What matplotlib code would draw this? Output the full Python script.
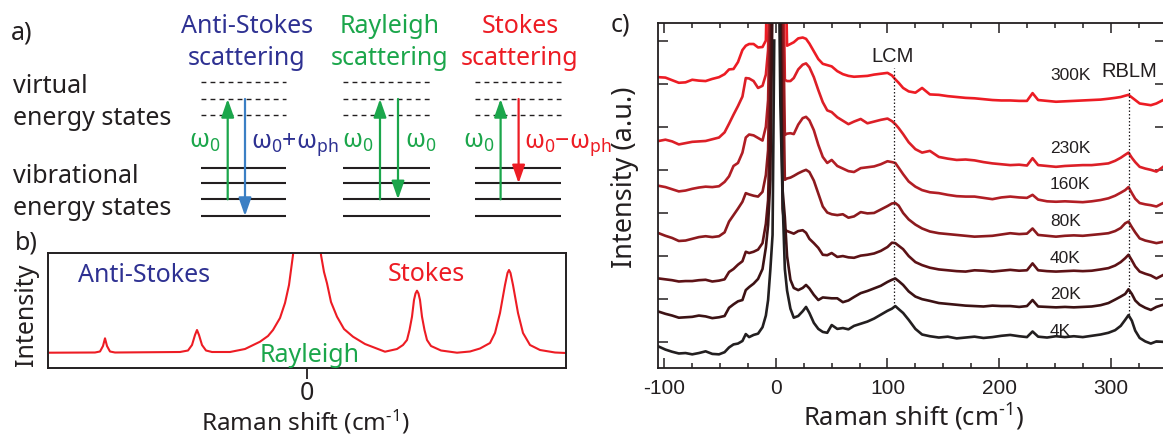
import numpy as np
import matplotlib.pyplot as plt
from matplotlib.ticker import MultipleLocator

plt.rcParams['font.family'] = ['Noto Sans', 'DejaVu Sans']
plt.rcParams['mathtext.fontset'] = 'custom'
plt.rcParams['mathtext.rm'] = 'Noto Sans'
plt.rcParams['mathtext.it'] = 'Noto Sans:italic'
plt.rcParams['mathtext.bf'] = 'Noto Sans:bold'

INK = '#231f20'
NAVY = '#2e3192'
SKY = '#3b7fc4'
GREEN = '#1ba64b'
RED = '#ed1c24'

# ---- b) schematic spectrum (arbitrary units, laser line at 0) ----
b_shift = [-257, -212, -207, -204, -202, -200, -197, -192, -127, -119,
           -115, -112, -110, -108, -105, -101, -95, -77, -62, -47,
           -39, -34, -27, -22, -18, -14, -11, 0, 11, 14,
           17, 20, 24, 30, 37, 46, 58, 78, 90, 96,
           100, 102.5, 105, 107, 108.5, 110, 111.5, 113, 115, 117.5,
           120, 124, 134, 150, 163, 173, 183, 188, 193, 198,
           200.5, 202, 203.5, 206, 211, 216, 223, 233, 248, 259]
b_intensity = [15.3, 15.5, 16.5, 22, 29.7, 22, 16.5, 15.5, 16, 17.5,
               23, 33, 38, 33, 23, 17.5, 16, 16, 19, 26.3,
               32, 38, 50, 65, 83, 113, 153, 250, 153, 113,
               96, 84.7, 66, 51.3, 39, 31.3, 24, 16.3, 19, 23,
               28, 38, 51.3, 68, 74.5, 77.3, 74.5, 68, 51.3, 38,
               28, 22, 17.5, 15.3, 16.5, 19.5, 25, 35, 55, 83,
               95, 98, 95, 83, 55, 35, 23, 18, 15.5, 15]

# ---- c) measured spectra, stacked (cm^-1, a.u.); nan = notch around laser ----
nan = np.nan
shift = [-105, -99, -93, -87, -81, -75, -69, -63, -57, -51,
         -46, -42, -38, -34, -30, -27, -24, -20, -16, -12,
         -9, -7, -5, -3, -1.5, 0, 2.5, 4, 6, 8,
         10, 13, 16, 20, 24, 27, 30, 34, 38, 42,
         46, 50, 55, 60, 65, 70, 76, 82, 88, 94,
         100, 104, 107, 110, 114, 119, 125, 131, 138, 146,
         154, 162, 170, 178, 186, 194, 202, 210, 218, 225,
         230, 235, 243, 251, 259, 267, 275, 283, 291, 298,
         304, 309, 313, 316, 319, 322, 326, 331, 336, 341,
         347]

i_300k = [6.15, 6.14, 6.08, 6.02, 6.03, 6.09, 6.07, 6.06, 6.11, 6.15,
          6.22, 6.33, 6.34, 6.50, 6.78, 6.88, 6.92, 6.92, 6.84, 6.85,
          7.00, 9.5, 12.0, 14.0, 16.0, nan, 16.0, 14.0, 12.0, 9.5,
          6.88, 6.92, 6.96, 7.05, 7.07, 7.04, 6.93, 6.75, 6.57, 6.46,
          6.43, 6.40, 6.29, 6.22, 6.18, 6.16, 6.17, 6.18, 6.21, 6.23,
          6.25, 6.19, 6.10, 6.02, 5.90, 5.82, 5.79, 5.90, 5.75, 5.74,
          5.71, 5.69, 5.67, 5.66, 5.64, 5.62, 5.61, 5.61, 5.60, 5.60,
          5.78, 5.62, 5.60, 5.58, 5.59, 5.60, 5.61, 5.62, 5.63, 5.65,
          5.67, 5.69, 5.72, 5.74, 5.68, 5.62, 5.54, 5.52, 5.50, 5.54,
          5.62]
i_230k = [4.67, 4.70, 4.66, 4.59, 4.62, 4.65, 4.66, 4.67, 4.71, 4.75,
          4.87, 5.07, 5.28, 5.48, 5.70, 6.13, 6.12, 6.06, 5.90, 5.95,
          6.21, 6.78, 10.0, 13.0, 15.0, nan, 15.0, 13.0, 10.0, 6.09,
          6.06, 6.06, 6.13, 6.33, 6.44, 6.47, 6.38, 6.15, 5.85, 5.57,
          5.38, 5.34, 5.22, 5.14, 5.06, 5.12, 5.18, 5.08, 5.12, 5.16,
          5.19, 5.13, 5.06, 4.97, 4.83, 4.64, 4.48, 4.40, 4.44, 4.30,
          4.26, 4.23, 4.24, 4.22, 4.18, 4.15, 4.13, 4.11, 4.12, 4.10,
          4.27, 4.11, 4.09, 4.07, 4.09, 4.10, 4.11, 4.11, 4.13, 4.15,
          4.21, 4.28, 4.35, 4.40, 4.28, 4.18, 4.07, 4.03, 4.00, 3.96,
          4.07]
i_160k = [3.63, 3.60, 3.55, 3.50, 3.52, 3.56, 3.59, 3.61, 3.60, 3.62,
          3.72, 3.85, 4.09, 4.16, 4.40, 4.75, 4.82, 4.80, 4.74, 4.68,
          5.00, 5.62, 8.5, 12.0, 14.0, nan, 14.0, 12.0, 8.5, 4.81,
          4.84, 4.85, 4.83, 5.05, 5.20, 5.23, 5.15, 4.92, 4.58, 4.30,
          4.16, 4.23, 4.09, 4.03, 3.97, 3.95, 4.04, 4.06, 4.08, 4.13,
          4.20, 4.18, 4.16, 4.05, 3.90, 3.73, 3.61, 3.53, 3.48, 3.46,
          3.42, 3.39, 3.38, 3.38, 3.35, 3.32, 3.36, 3.38, 3.36, 3.35,
          3.42, 3.31, 3.27, 3.26, 3.27, 3.26, 3.25, 3.27, 3.30, 3.34,
          3.40, 3.47, 3.53, 3.60, 3.46, 3.33, 3.23, 3.20, 3.18, 3.15,
          3.23]
i_80k = [2.53, 2.47, 2.42, 2.35, 2.36, 2.40, 2.44, 2.46, 2.44, 2.46,
         2.55, 2.80, 2.95, 3.10, 3.26, 3.46, 3.43, 3.40, 3.38, 3.49,
         3.88, 4.46, 7.5, 11.0, 13.0, nan, 13.0, 11.0, 7.0, 3.77,
         3.80, 3.82, 3.86, 3.92, 3.97, 4.00, 3.95, 3.75, 3.45, 3.15,
         3.01, 2.97, 2.95, 2.97, 2.89, 2.92, 3.02, 2.99, 3.00, 3.08,
         3.16, 3.22, 3.23, 3.17, 3.00, 2.85, 2.73, 2.64, 2.57, 2.53,
         2.51, 2.49, 2.47, 2.45, 2.46, 2.47, 2.50, 2.53, 2.51, 2.52,
         2.64, 2.49, 2.47, 2.45, 2.47, 2.48, 2.47, 2.49, 2.51, 2.53,
         2.58, 2.65, 2.76, 2.80, 2.67, 2.55, 2.41, 2.36, 2.33, 2.30,
         2.33]
i_40k = [1.48, 1.46, 1.44, 1.41, 1.42, 1.42, 1.44, 1.45, 1.41, 1.43,
         1.46, 1.63, 1.70, 1.80, 1.88, 2.10, 2.07, 2.10, 2.15, 2.30,
         2.75, 3.30, 5.5, 10.0, 12.0, nan, 12.0, 9.0, 3.10, 2.61,
         2.58, 2.55, 2.52, 2.58, 2.60, 2.54, 2.40, 2.30, 2.19, 2.03,
         2.02, 2.07, 1.98, 2.00, 1.97, 1.96, 2.01, 2.03, 2.06, 2.12,
         2.21, 2.31, 2.30, 2.24, 2.16, 2.00, 1.86, 1.79, 1.73, 1.69,
         1.67, 1.65, 1.64, 1.67, 1.66, 1.64, 1.66, 1.68, 1.66, 1.67,
         1.83, 1.67, 1.65, 1.64, 1.65, 1.66, 1.65, 1.66, 1.69, 1.72,
         1.78, 1.86, 1.95, 2.03, 1.90, 1.76, 1.64, 1.59, 1.55, 1.48,
         1.56]
i_20k = [0.71, 0.66, 0.62, 0.57, 0.58, 0.59, 0.62, 0.60, 0.56, 0.58,
         0.61, 0.80, 0.88, 0.95, 0.98, 1.21, 1.28, 1.36, 1.47, 1.70,
         2.20, 2.72, 3.77, 8.0, 11.0, nan, 11.0, 7.5, 3.53, 2.90,
         2.00, 1.45, 1.26, 1.21, 1.26, 1.33, 1.25, 1.10, 0.98, 1.04,
         1.03, 1.02, 1.02, 0.93, 0.97, 1.05, 1.14, 1.19, 1.25, 1.31,
         1.40, 1.45, 1.48, 1.42, 1.33, 1.18, 1.06, 1.00, 0.96, 0.91,
         0.89, 0.87, 0.85, 0.84, 0.83, 0.85, 0.84, 0.84, 0.82, 0.84,
         0.98, 0.83, 0.82, 0.81, 0.82, 0.81, 0.82, 0.83, 0.86, 0.91,
         0.99, 1.06, 1.12, 1.23, 1.12, 0.97, 0.87, 0.80, 0.75, 0.82,
         0.87]
i_4k = [-0.10, -0.17, -0.22, -0.26, -0.25, -0.28, -0.25, -0.21, -0.27, -0.28,
        -0.23, -0.12, -0.05, -0.03, 0.03, 0.19, 0.12, 0.17, 0.20, 0.35,
        0.62, 0.98, 1.68, 2.49, 7.0, nan, 9.0, 5.5, 3.3, 1.7,
        1.2, 0.78, 0.57, 0.61, 0.72, 0.82, 0.68, 0.45, 0.31, 0.24,
        0.22, 0.40, 0.31, 0.33, 0.30, 0.38, 0.43, 0.48, 0.55, 0.64,
        0.73, 0.78, 0.84, 0.77, 0.68, 0.52, 0.31, 0.18, 0.14, 0.11,
        0.13, 0.09, 0.11, 0.13, 0.10, 0.12, 0.15, 0.17, 0.14, 0.12,
        0.25, 0.13, 0.11, 0.14, 0.12, 0.14, 0.12, 0.15, 0.18, 0.22,
        0.28, 0.38, 0.52, 0.63, 0.50, 0.27, 0.10, 0.02, -0.03, 0.02,
        0.01]

temps = ['300K', '230K', '160K', '80K', '40K', '20K', '4K']
spectra = [i_300k, i_230k, i_160k, i_80k, i_40k, i_20k, i_4k]
colors = ['#ed1c24', '#dc1f27', '#b21e25', '#8c1a1e', '#5e1216', '#3c1214', '#231f20']
temp_label_y = [6.09, 4.40, 3.55, 2.70, 1.85, 1.00, 0.15]

lcm_pos, rblm_pos = 106, 316
tick_pos = [-100, 0, 100, 200, 300]
tick_txt = ['-100', '0', '100', '200', '300']

W, H = 1163, 437
fig = plt.figure(figsize=(W / 100, H / 100), dpi=100)


def box(x0, y0, x1, y1):
    return [x0 / W, 1 - y1 / H, (x1 - x0) / W, (y1 - y0) / H]


# overlay in pixel units for the level diagram and free labels
ov = fig.add_axes([0, 0, 1, 1])
ov.set_xlim(0, W)
ov.set_ylim(H, 0)
ov.axis('off')
ov.patch.set_visible(False)
ov.set_zorder(5)

# ---------------- a) ----------------
ov.text(11, 39, 'a)', fontsize=18, color=INK)
for s, y in [('virtual', 92.7), ('energy states', 125),
             ('vibrational', 182.7), ('energy states', 215)]:
    ov.text(13, y, s, fontsize=18, color=INK, va='baseline')

columns = [(201, 286), (343, 430), (474.5, 560.7)]
titles = [('Anti-Stokes', NAVY, 247), ('Rayleigh', GREEN, 390), ('Stokes', RED, 520)]
virtual_y = [81.7, 99, 115]
vib_y = [167.7, 183.3, 199.3, 216]
for (x0, x1), (name, col, xc) in zip(columns, titles):
    ov.text(xc, 33, name, fontsize=18, color=col, ha='center', va='baseline')
    ov.text(xc, 65, 'scattering', fontsize=18, color=col, ha='center', va='baseline')
    for y in virtual_y:
        ov.plot([x0, x1], [y, y], color=INK, lw=1.0, dashes=(3.5, 3))
    for y in vib_y:
        ov.plot([x0, x1], [y, y], color=INK, lw=1.5, solid_capstyle='butt')

arrows = [(227.7, 199.3, 99, GREEN), (245, 99, 216, SKY),
          (380, 199.3, 99, GREEN), (398, 99, 199.3, GREEN),
          (500.6, 199.3, 99, GREEN), (518.6, 99, 183.3, RED)]
for x, y0, y1, col in arrows:
    ov.annotate('', xy=(x, y1), xytext=(x, y0),
                arrowprops=dict(arrowstyle='-|>,head_length=1.0,head_width=0.35',
                                mutation_scale=11, lw=1.6, color=col,
                                shrinkA=0, shrinkB=0))

w0 = r'$\mathrm{\omega_0}$'
ov.text(220, 148, w0, fontsize=18, color=GREEN, ha='right', va='baseline')
ov.text(251, 148, r'$\mathrm{\omega_0{+}\omega_{ph}}$', fontsize=18, color=NAVY,
        ha='left', va='baseline')
ov.text(373, 148, w0, fontsize=18, color=GREEN, ha='right', va='baseline')
ov.text(405, 148, w0, fontsize=18, color=GREEN, ha='left', va='baseline')
ov.text(494, 148, w0, fontsize=18, color=GREEN, ha='right', va='baseline')
ov.text(524, 148, r'$\mathrm{\omega_0{-}\omega_{ph}}$', fontsize=18, color=RED,
        ha='left', va='baseline')

# ---------------- b) ----------------
axb = fig.add_axes(box(48, 253.3, 566, 367.7))
axb.patch.set_visible(False)
axb.plot(b_shift, b_intensity, color=RED, lw=1.5, solid_joinstyle='round')
axb.set_xlim(-259, 259)
axb.set_ylim(0.3, 114.7)
axb.set_yticks([])
axb.set_xticks([0], ['0'], fontsize=18, color=INK)
axb.tick_params(axis='x', direction='out', length=7.6, width=1.3, color=INK, pad=2.0)
for sp in axb.spines.values():
    sp.set_linewidth(1.4)
    sp.set_color(INK)

ov.text(15, 250, 'b)', fontsize=18, color=INK)
ov.text(26, 315, 'Intensity', fontsize=18, color=INK, rotation=90, ha='center', va='center')
ov.text(305, 430, r'Raman shift (cm$^{\text{-}1}$)', fontsize=17.5, color=INK,
        ha='center', va='baseline')
ov.text(78, 281.7, 'Anti-Stokes', fontsize=18, color=NAVY, va='baseline')
ov.text(388, 280.7, 'Stokes', fontsize=18, color=RED, va='baseline')
ov.text(260, 361.7, 'Rayleigh', fontsize=18, color=GREEN, va='baseline')

# ---------------- c) ----------------
axc = fig.add_axes(box(658.3, 23.3, 1165, 367.7))
axc.patch.set_visible(False)
for y, col in zip(spectra, colors):
    axc.plot(shift, y, color=col, lw=1.9, solid_joinstyle='round')
for t, ty in zip(temps, temp_label_y):
    axc.text(245.6, ty, t, fontsize=12.5, family='Liberation Sans', color=INK, va='baseline')

axc.plot([lcm_pos, lcm_pos], [0.91, 6.36], color=INK, lw=0.9, dashes=(1.2, 1.6))
axc.plot([rblm_pos, rblm_pos], [0.56, 5.93], color=INK, lw=0.9, dashes=(1.2, 1.6))
axc.text(104.4, 6.50, 'LCM', fontsize=14.5, family='Liberation Sans', color=INK,
         ha='center', va='baseline')
axc.text(316.8, 6.16, 'RBLM', fontsize=14.5, family='Liberation Sans', color=INK,
         ha='center', va='baseline')

axc.set_xlim(-105.4, 348.7)
axc.set_ylim(-0.59, 7.40)
axc.set_xticks(tick_pos, tick_txt, fontsize=15, family='Liberation Sans', color=INK)
axc.xaxis.set_minor_locator(MultipleLocator(25))
axc.set_yticks(range(8), [])
axc.tick_params(which='both', direction='in', top=True, right=True, color=INK, width=1.1)
axc.tick_params(which='major', length=7.5)
axc.tick_params(which='minor', length=3.8)
axc.tick_params(axis='x', pad=8)
for sp in axc.spines.values():
    sp.set_linewidth(1.3)
    sp.set_color(INK)

ov.text(611, 31.7, 'c)', fontsize=18, color=INK)
ov.text(625, 177, 'Intensity (a.u.)', fontsize=19.5, color=INK, rotation=90,
        ha='center', va='center')
ov.text(913, 426, r'Raman shift (cm$^{\text{-}1}$)', fontsize=18.5, color=INK,
        ha='center', va='baseline')

fig.savefig('out.png', dpi=100)
